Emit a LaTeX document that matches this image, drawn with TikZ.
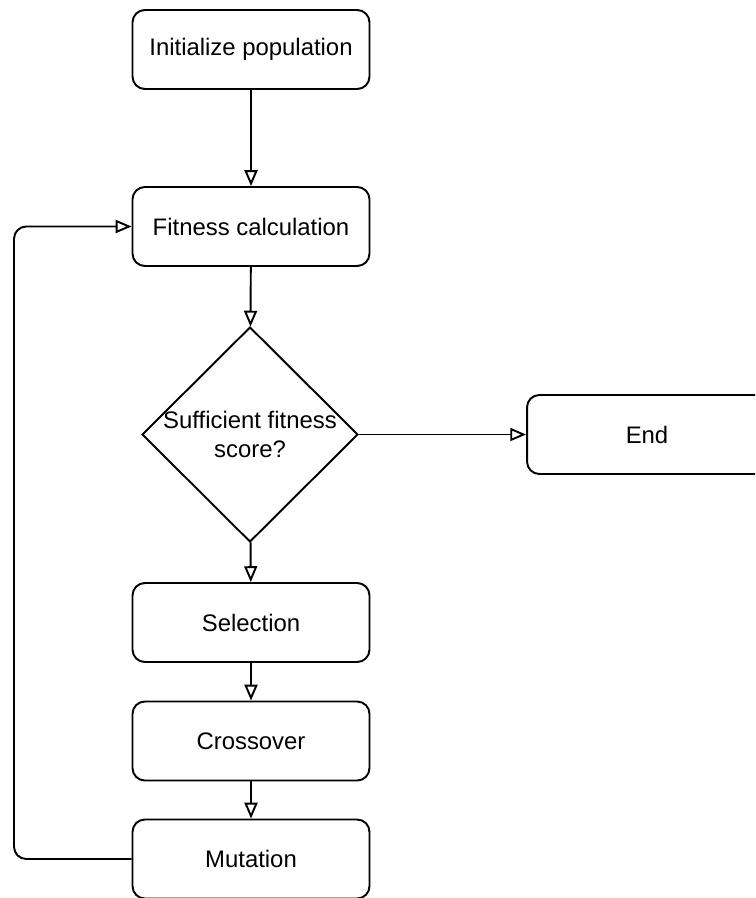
\documentclass[tikz,border=0pt]{standalone}
\usepackage{fontspec}
\setmainfont{Liberation Sans}
\usetikzlibrary{arrows.meta,positioning,shapes.geometric}

\begin{document}
\begin{tikzpicture}[x=0.02cm,y=-0.02cm,line width=1.1pt,
  font=\fontsize{13.6}{17}\selectfont,
  stage/.style={draw,rounded corners=7pt,minimum width=4.74cm,minimum height=1.58cm,align=center},
  decision/.style={draw,diamond,inner sep=0pt,minimum width=4.32cm,minimum height=4.3cm},
  flow/.style={-{Triangle[open,length=9pt,width=7.4pt]}}]
\clip (0,0) rectangle (755,898);
\node[stage] (init) at (251,49.5) {Initialize population};
\node[stage] (fitness) at (251,226.5) {Fitness calculation};
\node[decision,label={[align=center]center:Sufficient fitness\\score?}] (check) at (250,434.5) {};
\node[stage,minimum width=4.8cm] (stop) at (647,434.5) {End};
\node[stage] (select) at (251,622.5) {Selection};
\node[stage] (cross) at (251,741) {Crossover};
\node[stage] (mutate) at (251,859) {Mutation};
\coordinate (loop) at (14,859);
\draw[flow] (init) -- (fitness);
\draw[flow] (fitness) -- (check);
\draw[flow] (check) -- (stop);
\draw[flow] (check) -- (select);
\draw[flow] (select) -- (cross);
\draw[flow] (cross) -- (mutate);
\draw[flow,rounded corners=7pt] (mutate.west) -- (loop) |- (fitness.west);
\end{tikzpicture}
\end{document}
